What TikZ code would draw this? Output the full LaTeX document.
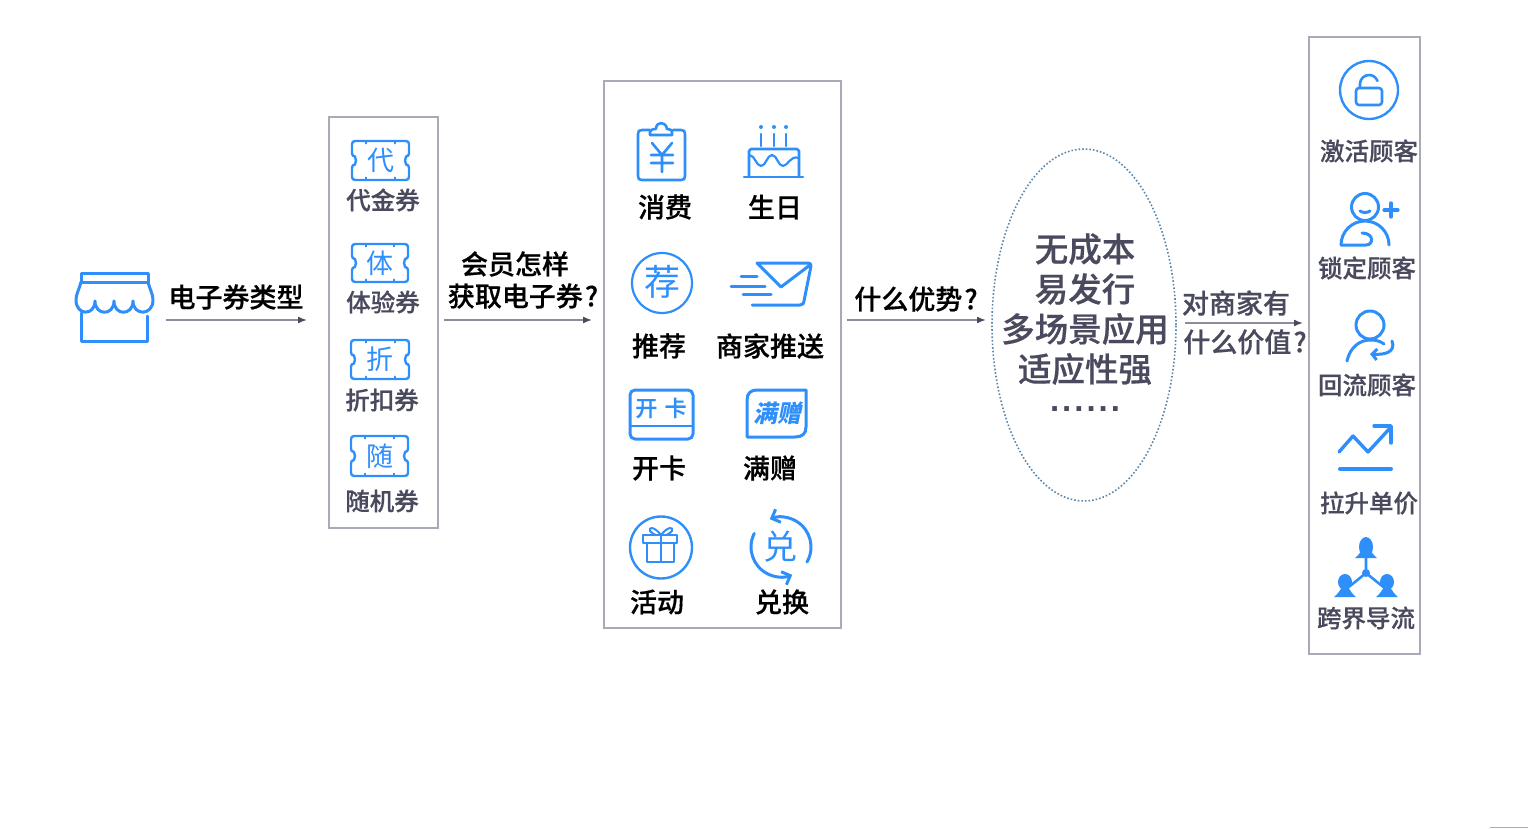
\documentclass[tikz,border=0pt]{standalone}
\usepackage{fontspec}
\setmainfont{Noto Sans CJK SC}[BoldFont={Noto Sans CJK SC Medium},BoldFeatures={FakeBold=0.5}]
\newfontfamily\slantfont[FakeSlant=0.2]{Noto Sans CJK SC}
\newfontfamily\dotfont[LetterSpace=9]{Liberation Sans}
\usetikzlibrary{calc,arrows.meta,shapes.geometric}
\definecolor{iconblue}{HTML}{2E8FFB}
\definecolor{framegray}{HTML}{A9A9B8}
\definecolor{slatetext}{HTML}{4A4A5E}
\definecolor{flowgray}{HTML}{8C8C9C}
\definecolor{dotblue}{HTML}{5B87AD}
\tikzset{
  iconline/.style={draw=iconblue,line width=2.6pt,line cap=round,line join=round},
  thinicon/.style={draw=iconblue,line width=2pt,line cap=round,line join=round},
  iconglyph/.style={text=iconblue,inner sep=0pt},
  blacktag/.style={text=black,font=\fontsize{27}{27}\selectfont\bfseries,inner sep=0pt},
  slatetag/.style={text=slatetext,font=\fontsize{24.5}{24.5}\selectfont\bfseries,inner sep=0pt},
  flowtag/.style={text=slatetext,font=\fontsize{27}{27}\selectfont\bfseries,inner sep=0pt},
  framebox/.style={draw=framegray,line width=1.8pt},
  flowline/.style={draw=flowgray,line width=1.6pt,-{Latex[length=9pt,width=7pt,color=slatetext]}},
}
% ticket outline with a glyph: x1,y1,x2,y2,glyph,name
\newcommand{\ticketicon}[6]{
  \pgfmathsetmacro{\ym}{(#2+#4)/2}
  \pgfmathsetmacro{\xa}{#1+0.25*(#3-#1)}
  \pgfmathsetmacro{\xb}{#1+0.75*(#3-#1)}
  \draw[iconline,line width=2.4pt,rounded corners=3pt] (#1,#2) -- (#3,#2) -- (#3,\ym-4)
    arc[start angle=90,end angle=270,radius=4pt] -- (#3,#4) -- (#1,#4) -- (#1,\ym+4)
    arc[start angle=-90,end angle=90,radius=4pt] -- cycle;
  \foreach \xt in {\xa,\xb} {
    \draw[iconline,line width=2pt] (\xt,#2) -- (\xt,#2+2.5);
    \draw[iconline,line width=2pt] (\xt,#4) -- (\xt,#4-2.5);
  }
  \node[iconglyph,font=\fontsize{27}{27}\selectfont] (#6) at ({(#1+#3)/2},\ym) {#5};
}
% small figure of the network icon: x, head y, head radius, base y
\newcommand{\netperson}[4]{
  \fill[iconblue] (#1,#2) ellipse[x radius=7pt,y radius=#3pt];
  \fill[iconblue] (#1-11,#4) .. controls (#1-7,#4-3) and (#1-5,#4-7) .. (#1-3,#4-10)
    -- (#1+3,#4-10) .. controls (#1+5,#4-7) and (#1+7,#4-3) .. (#1+11,#4) -- cycle;
}
\begin{document}
\begin{tikzpicture}[x=1pt,y=-1pt]
  \useasboundingbox (0,0) rectangle (1528,829);
  % store
  \draw[iconline,line width=3pt] (81,282) -- (81,273) -- (148,273) -- (148,282) -- cycle;
  \draw[iconline,line width=3pt] (81,282) .. controls (79,290) and (76,294) .. (76,300)
    .. controls (76,316) and (95,316) .. (95,301)
    .. controls (95,316) and (114,316) .. (114,301)
    .. controls (114,316) and (133,316) .. (133,301)
    .. controls (133,316) and (153,316) .. (153,300)
    .. controls (153,294) and (150,290) .. (148,282);
  \draw[iconline,line width=3pt] (81,313) -- (81,341) -- (147,341) -- (147,316);
  \node[blacktag] (typetag) at (236,297) {电子券类型};
  \coordinate (typestart) at (166,320);
  \coordinate (typeend) at (307,320);
  \draw[flowline] (typestart) -- (typeend);

  % coupon types
  \node[framebox,minimum width=109pt,minimum height=411pt,inner sep=0pt] (couponbox) at (383.5,322.5) {};
  \ticketicon{352}{141}{409}{180}{代}{daiglyph}
  \ticketicon{352}{244}{408}{282}{体}{tiglyph}
  \ticketicon{351}{340}{409}{379}{折}{zheglyph}
  \ticketicon{351}{436}{408}{476}{随}{suiglyph}
  \node[slatetag] (daitag) at (383,200) {代金券};
  \node[slatetag] (titag) at (383,302) {体验券};
  \node[slatetag] (zhetag) at (382,400) {折扣券};
  \node[slatetag] (suitag) at (382,501) {随机券};

  \node[blacktag] (gettag) at (515,264) {会员怎样};
  \node[blacktag] (waytag) at (523,296) {获取电子券\kern2pt?};
  \coordinate (waystart) at (444,320);
  \coordinate (wayend) at (592,320);
  \draw[flowline] (waystart) -- (wayend);

  % ways of getting one
  \node[framebox,minimum width=237pt,minimum height=547pt,inner sep=0pt] (waybox) at (722.5,354.5) {};
  % clipboard
  \draw[iconline] (650,130) -- (642,130) .. controls (639,130) and (638,131) .. (638,134) -- (638,176)
    .. controls (638,179) and (639,180) .. (642,180) -- (681,180) .. controls (684,180) and (685,179) .. (685,176)
    -- (685,134) .. controls (685,131) and (684,130) .. (681,130) -- (673,130);
  \draw[iconline] (650,135) -- (672,135) .. controls (673,129) and (669,129) .. (667,129)
    .. controls (666,121) and (656,121) .. (656,129) .. controls (652,129) and (649,130) .. (650,135);
  \draw[iconline] (652,143) -- (662,155) -- (672,143) (651,155) -- (673,155) (651,163) -- (673,163) (662,155) -- (662,172);
  \node[blacktag] (spendtag) at (665,207) {消费};
  % cake
  \draw[iconline] (749,177) -- (749,151) -- (751,149) -- (797,149) -- (799,151) -- (799,177);
  \draw[iconline] (744,177) -- (803,177);
  \draw[iconline,line width=2.2pt] (749,155) .. controls (755,155) and (756,166) .. (761,166)
    .. controls (766,166) and (767,155) .. (772,155) .. controls (777,155) and (778,166) .. (783,166)
    .. controls (788,166) and (790,155) .. (799,158);
  \foreach \xc in {761,774,786} {
    \draw[iconline] (\xc,134) -- (\xc,146);
    \fill[iconblue] (\xc,127) circle[radius=2pt];
  }
  \node[blacktag] (birthtag) at (775,207) {生日};
  % recommend
  \node[iconglyph,font=\fontsize{36}{36}\selectfont] (jianglyph) at (662,282) {荐};
  \draw[iconline,line width=2.2pt] (662,283) circle[radius=30pt];
  \node[blacktag] (recotag) at (659,346) {推荐};
  % envelope
  \draw[iconline,line width=3pt] (752,305) -- (800,305) .. controls (803,305) and (804,303) .. (804,301)
    -- (811,266) .. controls (811,264) and (810,263) .. (808,263) -- (757,263) -- (781,287) -- (810,265);
  \draw[iconline,line width=3pt] (741,276) -- (757,276) (731,286) -- (765,286) (743,294) -- (771,294);
  \node[blacktag] (pushtag) at (770,346) {商家推送};
  % open card
  \draw[iconline,line width=3pt,rounded corners=5pt] (630,390) rectangle (693,439);
  \draw[iconline,line width=2.2pt] (630,426) -- (693,426);
  \node[iconglyph,font=\fontsize{22}{22}\selectfont\bfseries] (cardglyph) at (661,408) {开\,\,卡};
  \node[blacktag] (cardtag) at (659,468) {开卡};
  % full gift
  \draw[iconline,line width=3pt] (747,437) -- (747,400) .. controls (747,393) and (751,390) .. (757,390)
    -- (806,390) -- (806,427) .. controls (806,434) and (802,437) .. (795,437) -- cycle;
  \node[iconglyph,font=\fontsize{24}{24}\selectfont\slantfont\bfseries] (giftglyph) at (777,413) {满赠};
  \node[blacktag] (gifttag) at (770,468) {满赠};
  % activity
  \draw[iconline,line width=2.4pt] (661,547.5) circle[radius=31pt];
  \draw[thinicon] (643,535) rectangle (677,543);
  \draw[thinicon] (647,543) -- (647,562) -- (674,562) -- (674,543) (661,535) -- (661,562);
  \draw[thinicon] (661,535) .. controls (655,527) and (648,526) .. (650,531) .. controls (651,533) and (654,534) .. (656,535);
  \draw[thinicon] (661,535) .. controls (667,527) and (674,526) .. (672,531) .. controls (671,533) and (668,534) .. (666,535);
  \node[blacktag] (acttag) at (657,602) {活动};
  % exchange
  \node[iconglyph,font=\fontsize{34}{34}\selectfont] (duiglyph) at (780,547) {兑};
  \coordinate (swapa) at ($(781,547)+(-30:30pt)$);
  \coordinate (swapb) at ($(781,547)+(153:30pt)$);
  \draw[iconline,line width=3pt,-{Straight Barb[length=7pt,width=14pt]}] (swapa)
    arc[start angle=-30,end angle=112,radius=30pt];
  \draw[iconline,line width=3pt,-{Straight Barb[length=7pt,width=14pt]}] (swapb)
    arc[start angle=153,end angle=292,radius=30pt];
  \node[blacktag] (swaptag) at (782,602) {兑换};

  \node[blacktag] (meritask) at (916,299) {什么优势\kern2pt?};
  \coordinate (meritstart) at (847,320);
  \coordinate (meritend) at (986,320);
  \draw[flowline] (meritstart) -- (meritend);

  % merits
  \node[ellipse,draw=dotblue,line width=1.6pt,dotted,minimum width=184pt,minimum height=352pt,inner sep=0pt] (meritoval) at (1084,325) {};
  \node[align=center,text=slatetext,inner sep=0pt,font=\fontsize{33.5}{40}\selectfont\bfseries] (merittext) at (1085,322.5)
    {无成本\\易发行\\多场景应用\\适应性强\\[-10pt]{\fontsize{33}{40}\dotfont\bfseries ......}};

  \node[flowtag] (valueup) at (1236,303) {对商家有};
  \node[flowtag] (valuedown) at (1245,342) {什么价值\kern2pt?};
  \coordinate (valuestart) at (1185,323);
  \coordinate (valueend) at (1303,323);
  \draw[flowline] (valuestart) -- (valueend);

  % value for the shop
  \node[framebox,minimum width=111pt,minimum height=617pt,inner sep=0pt] (valuebox) at (1364.5,345.5) {};
  % lock
  \draw[iconline,line width=2.4pt] (1369,90) circle[radius=29pt];
  \draw[iconline,rounded corners=3pt] (1356,88) rectangle (1382,105);
  \draw[iconline] (1360,88) -- (1360,84) arc[start angle=180,end angle=20,radius=9pt];
  \node[slatetag] (wakentag) at (1369,151) {激活顾客};
  % person with plus
  \draw[iconline,line width=3pt] (1365,207) circle[radius=13.5pt];
  \draw[iconline,line width=3pt] (1360,211) .. controls (1363,213) and (1367,213) .. (1370,211);
  \draw[iconline,line width=3.2pt] (1384,210) -- (1398,210) (1391,203) -- (1391,217);
  \draw[iconline,line width=3pt] (1341,245) arc[start angle=180,end angle=0,radius=24pt];
  \draw[iconline,line width=3pt] (1341,245) -- (1366,245) .. controls (1374,245) and (1374,233) .. (1362,233);
  \node[slatetag] (locktag) at (1367,268) {锁定顾客};
  % person coming back
  \draw[iconline,line width=3pt] (1370,325) circle[radius=14pt];
  \draw[iconline,line width=3pt] (1347,361) .. controls (1350,347) and (1360,340) .. (1370,340) .. controls (1376,340) and (1380,341) .. (1384,344);
  \draw[iconline,line width=3pt,-{Straight Barb[length=5pt,width=11pt]}] (1392,341) .. controls (1396,352) and (1385,355) .. (1370,354);
  \node[slatetag] (backtag) at (1367,385) {回流顾客};
  % trend line
  \draw[iconline,line width=3.4pt] (1339,452) -- (1353,436) -- (1368,452) -- (1391,427);
  \draw[iconline,line width=3.4pt] (1374,426) -- (1391,426) -- (1391,443);
  \draw[iconline,line width=4pt] (1340,469) -- (1391,469);
  \node[slatetag] (pricetag) at (1369,503) {拉升单价};
  % network
  \netperson{1366}{547}{10}{558}
  \netperson{1345}{582}{8}{597}
  \netperson{1387}{582}{8}{597}
  \fill[iconblue] (1366,573) circle[radius=4pt];
  \draw[iconline] (1366,558) -- (1366,573) -- (1350,586) (1366,573) -- (1382,586);
  \node[slatetag] (crosstag) at (1366,618) {跨界导流};

  \draw[framegray,line width=1.2pt] (1490,827.5) -- (1528,827.5);
\end{tikzpicture}
\end{document}
